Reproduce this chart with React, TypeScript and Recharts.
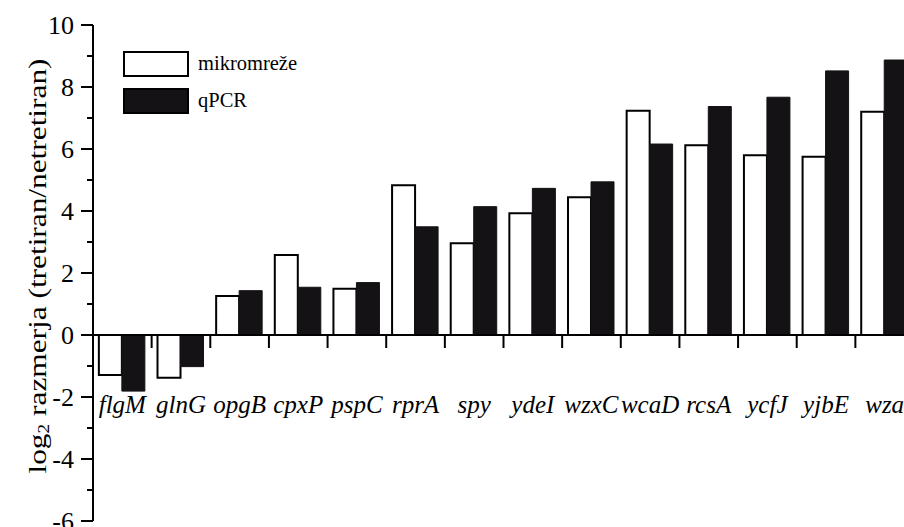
import { BarChart, Bar, XAxis, YAxis, ReferenceLine, Legend, Label } from "recharts";

// gene names (x categories)
const genes = ["flgM", "glnG", "opgB", "cpxP", "pspC", "rprA", "spy", "ydeI", "wzxC", "wcaD", "rcsA", "ycfJ", "yjbE", "wza"];
// log2 ratio, microarray
const mikromreze = [-1.29, -1.38, 1.26, 2.58, 1.49, 4.83, 2.96, 3.93, 4.44, 7.23, 6.12, 5.8, 5.75, 7.2];
// log2 ratio, qPCR
const qpcr = [-1.81, -1.02, 1.43, 1.54, 1.69, 3.49, 4.14, 4.73, 4.94, 6.16, 7.37, 7.67, 8.52, 8.87];
const yTicks = [-6, -5, -4, -3, -2, -1, 0, 1, 2, 3, 4, 5, 6, 7, 8, 9, 10];

const Y_MIN = -6;
const Y_MAX = 10;
const CHART_W = 914;
const CHART_H = 560;
const TOP = 25;
const AXIS_W = 93;
const XAXIS_H = 39;
const PLOT_H = CHART_H - TOP - XAXIS_H;
const PLOT_W = CHART_W - AXIS_W;
const CAT_W = PLOT_W / genes.length;
const FONT = '"Liberation Serif", "Times New Roman", serif';

const data = genes.map((g, i) => ({ gene: g, mikro: mikromreze[i], qpcr: qpcr[i] }));

function YTick(props: any) {
  const { x, y, payload } = props;
  const major = payload.value % 2 === 0;
  return (
    <g>
      <line x1={x - (major ? 12 : 6)} x2={x} y1={y} y2={y} stroke="#000" strokeWidth={2} />
      {major && (
        <text x={x - 19} y={y} dy="0.35em" textAnchor="end" fontSize={26} fontFamily={FONT} fill="#000">
          {payload.value}
        </text>
      )}
    </g>
  );
}

function XTick(props: any) {
  const { x, y, payload } = props;
  // y is the bottom of the plot; the category axis sits on the zero line
  const zeroY = y - (PLOT_H * (0 - Y_MIN)) / (Y_MAX - Y_MIN);
  return (
    <g>
      <line x1={x + CAT_W / 2} x2={x + CAT_W / 2} y1={zeroY} y2={zeroY + 13} stroke="#000" strokeWidth={2} />
      <text x={x} y={zeroY + 78} textAnchor="middle" fontSize={25} fontStyle="italic" fontFamily={FONT} fill="#000">
        {payload.value}
      </text>
    </g>
  );
}

function YLabel() {
  const cx = 37;
  const cy = TOP + PLOT_H / 2 - 7;
  return (
    <text
      x={cx}
      y={cy}
      transform={`rotate(-90, ${cx}, ${cy})`}
      textAnchor="middle"
      dominantBaseline="central"
      fontSize={26}
      fontFamily={FONT}
      fill="#000"
      textLength={415}
      lengthAdjust="spacingAndGlyphs"
    >
      log
      <tspan fontSize={16} dy={6}>2</tspan>
      <tspan dy={-6}> razmerja (tretiran/netretiran)</tspan>
    </text>
  );
}

function LegendBox(props: any) {
  const { payload } = props;
  return (
    <div style={{ fontFamily: FONT, fontSize: 20.5, color: "#000" }}>
      {payload.map((p: any) => (
        <div key={p.value} style={{ display: "flex", alignItems: "center", height: 37 }}>
          <div
            style={{
              width: 62,
              height: 22,
              background: p.payload.fill,
              border: "2px solid #000",
              marginRight: 9,
            }}
          />
          <span>{p.value}</span>
        </div>
      ))}
    </div>
  );
}

export default function App() {
  return (
    <div style={{ position: "absolute", left: 0, top: 0, width: 904, height: 527, overflow: "hidden", background: "#fff" }}>
      <BarChart
        width={CHART_W}
        height={CHART_H}
        data={data}
        margin={{ top: TOP, right: 0, left: 0, bottom: 0 }}
        barCategoryGap="10%"
        barGap={0}
      >
        <XAxis
          dataKey="gene"
          height={XAXIS_H}
          axisLine={false}
          tickLine={false}
          tickSize={0}
          tickMargin={0}
          interval={0}
          tick={<XTick />}
        />
        <YAxis
          width={AXIS_W}
          domain={[Y_MIN, Y_MAX]}
          ticks={yTicks}
          interval={0}
          allowDataOverflow
          axisLine={{ stroke: "#000", strokeWidth: 2 }}
          tickLine={false}
          tickSize={0}
          tickMargin={0}
          tick={<YTick />}
        >
          <Label content={<YLabel />} />
        </YAxis>
        <Legend
          layout="vertical"
          align="center"
          verticalAlign="middle"
          wrapperStyle={{ left: 123, top: 45, width: "auto", height: "auto" }}
          content={<LegendBox />}
        />
        <Bar dataKey="mikro" name="mikromreže" fill="#fff" stroke="#000" strokeWidth={2} isAnimationActive={false} />
        <Bar dataKey="qpcr" name="qPCR" fill="#141214" stroke="#141214" strokeWidth={1} isAnimationActive={false} />
        <ReferenceLine y={0} stroke="#000" strokeWidth={2} />
      </BarChart>
    </div>
  );
}
